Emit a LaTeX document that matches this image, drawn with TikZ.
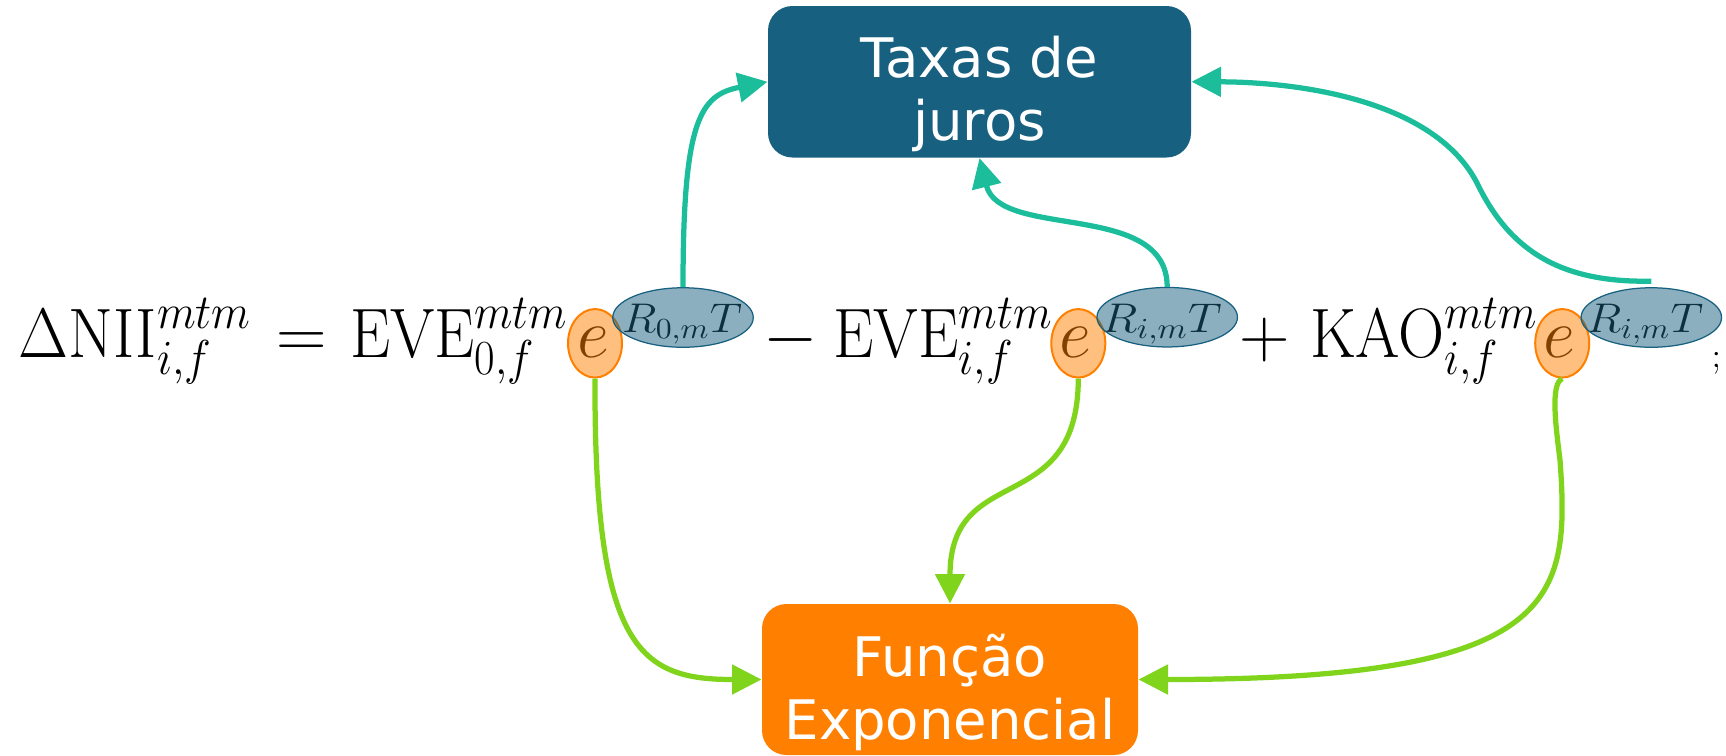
\RequirePackage{fix-cm}
\documentclass[tikz,border=0pt]{standalone}
\usepackage[no-math]{fontspec}
\usepackage{graphicx}
\usetikzlibrary{arrows.meta,shapes.geometric}
\newfontfamily\boxfont{DejaVu Sans}
\definecolor{taxasblue}{RGB}{24,96,128}
\definecolor{funcorange}{RGB}{255,128,0}
\definecolor{tealc}{RGB}{27,189,155}
\definecolor{greenc}{RGB}{128,212,28}
\newcommand\eqw[2]{\resizebox{#1}{\height}{$#2$}}
\begin{document}
\begin{tikzpicture}[x=0.4pt,y=-0.4pt,
 eqpart/.style={inner sep=0pt, outer sep=0pt, font=\fontsize{28}{34}\selectfont},
 exppart/.style={inner sep=0pt, outer sep=0pt, font=\fontsize{16.6}{20}\selectfont},
 ovalorange/.style={ellipse, draw=funcorange, line width=0.8pt, fill=funcorange, fill opacity=0.5, minimum width=21.6pt, minimum height=27.4pt, inner sep=0pt},
 ovalblue/.style={ellipse, draw=taxasblue, line width=0.5pt, fill=taxasblue, fill opacity=0.5, minimum width=56.2pt, minimum height=23.8pt, inner sep=0pt},
 boxnode/.style={rectangle, rounded corners=9.8pt, inner sep=0pt, draw=none},
 boxtext/.style={text=white, align=center, inner sep=0pt, font=\boxfont\fontsize{21.8}{25.2}\selectfont},
 conn/.style={line width=2.1pt, -{Triangle[length=11.8pt,width=11.6pt]}},
 tealconn/.style={conn, draw=tealc},
 greenconn/.style={conn, draw=greenc}]
\useasboundingbox (0,0) rectangle (1726,755);

% boxes
\node[boxnode, fill=taxasblue, minimum width=169.2pt, minimum height=60.6pt] (taxas) at (979.5,81.75) {};
\node[boxtext, anchor=north] (taxastxt) at (979.5,36) {Taxas de\\juros};
\node[boxnode, fill=funcorange, minimum width=150.4pt, minimum height=60.4pt] (funcao) at (950,679.5) {};
\node[boxtext, anchor=north] (funcaotxt) at (950,633.5) {Função\\Exponencial};

% equation
\node[eqpart, anchor=base west] (nii) at (18.3,357) {\eqw{93.4pt}{\Delta\mathrm{NII}^{mtm}_{i,f}}};
\node[eqpart, anchor=base] (eqsign) at (301.7,357) {$=$};
\node[eqpart, anchor=base west] (eve0) at (350,357) {\eqw{87.3pt}{\mathrm{EVE}^{mtm}_{0,f}}};
\node[eqpart, anchor=base] (e1) at (593.5,357) {$e$};
\node[exppart, anchor=base west] (r1) at (622,332) {\eqw{48pt}{R_{0,m}T}};
\node[eqpart, anchor=base] (minus) at (790.5,357) {$-$};
\node[eqpart, anchor=base west] (evei) at (833.3,357) {\eqw{87.9pt}{\mathrm{EVE}^{mtm}_{i,f}}};
\node[eqpart, anchor=base] (e2) at (1075.5,357) {$e$};
\node[exppart, anchor=base west] (r2) at (1101.7,332) {\eqw{48pt}{R_{i,m}T}};
\node[eqpart, anchor=base] (plus) at (1265,357) {$+$};
\node[eqpart, anchor=base west] (kao) at (1310,357) {\eqw{91.3pt}{\mathrm{KAO}^{mtm}_{i,f}}};
\node[eqpart, anchor=base] (e3) at (1559,357) {$e$};
\node[exppart, anchor=base west] (r3) at (1586.7,332) {\eqw{46.6pt}{R_{i,m}T}};
\begin{scope}
\clip (1700,330) rectangle (1717,385);
\node[inner sep=0pt, anchor=base west, font=\fontsize{14}{16}\selectfont] (semi) at (1711,367) {$;$};
\end{scope}

% highlight ovals
\node[ovalorange] (o1) at (595,343.3) {};
\node[ovalblue] (b1) at (683,317.5) {};
\node[ovalorange] (o2) at (1078.3,343.3) {};
\node[ovalblue] (b2) at (1167.2,317.2) {};
\node[ovalorange] (o3) at (1562.2,343.3) {};
\node[ovalblue] (b3) at (1651.3,317.5) {};

% connectors
\draw[tealconn] (b1.north) .. controls (683,120) and (700,95) .. (taxas.west);
\draw[tealconn] (b2.north) .. controls (1167,200) and (1000,240) .. (taxas.south);
\draw[tealconn] ([yshift=2.4pt]b3.north) .. controls (1560,283) and (1510,250) .. (1478,185) .. controls (1436.4,100.5) and (1300,82) .. (taxas.east);
\draw[greenconn] (o1.south) .. controls (594,650) and (640,679.5) .. (funcao.west);
\draw[greenconn] (o2.south) .. controls (1078,520) and (950,460) .. (funcao.north);
\draw[greenconn] (o3.south) .. controls (1550,384) and (1556,428) .. (1560,460) .. controls (1570,600) and (1560,679.5) .. (funcao.east);
\end{tikzpicture}
\end{document}
